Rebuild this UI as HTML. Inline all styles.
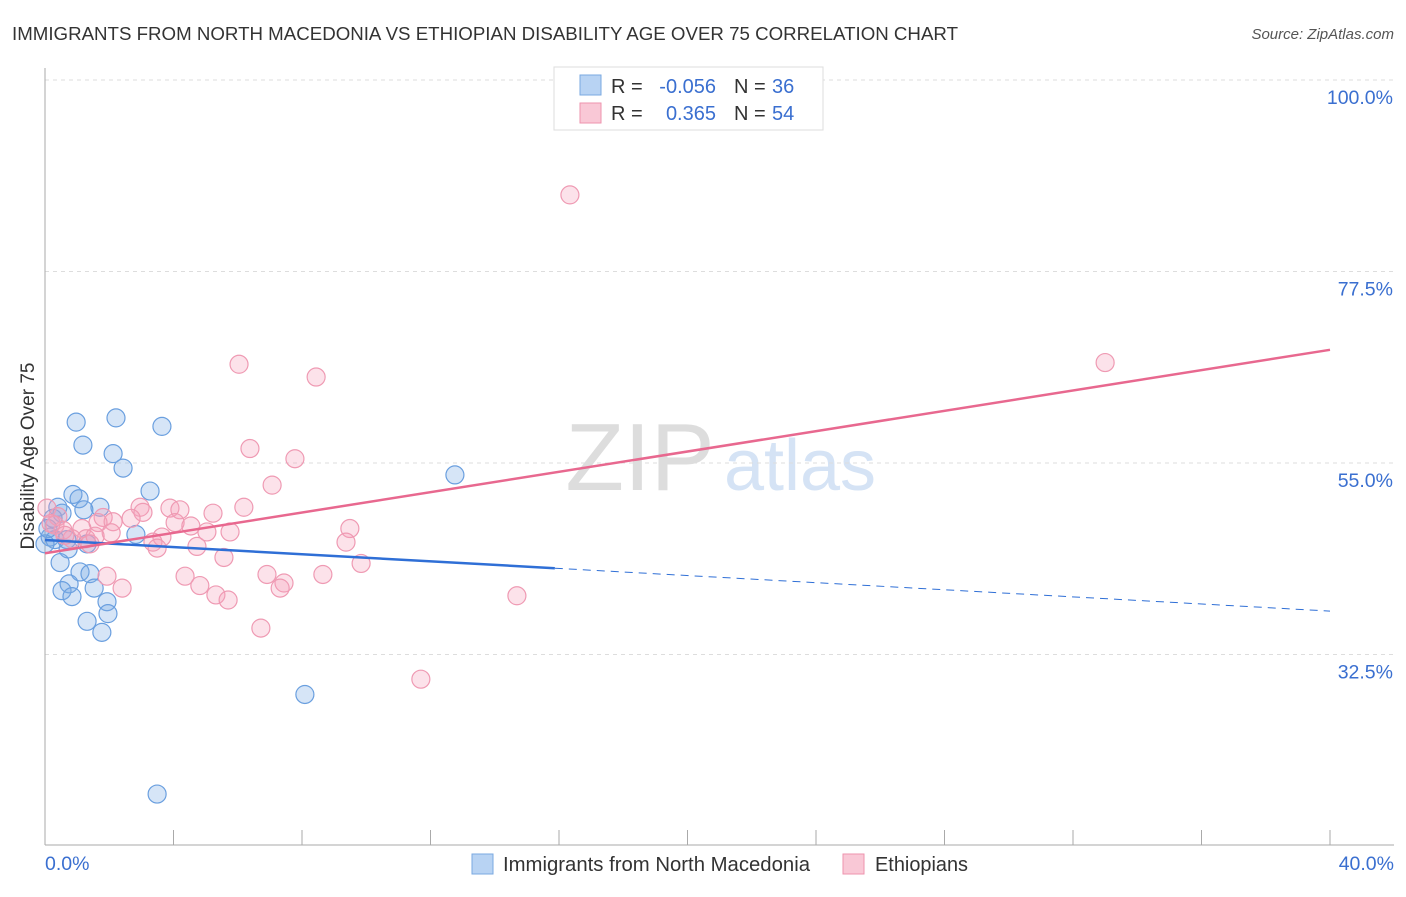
<!DOCTYPE html>
<html><head><meta charset="utf-8"><style>
body{margin:0;background:#fff;font-family:"Liberation Sans",sans-serif}
svg text{font-family:"Liberation Sans",sans-serif}
</style></head><body>
<svg width="1406" height="892" viewBox="0 0 1406 892">
<text x="12" y="40" font-size="18" fill="#333" textLength="946" lengthAdjust="spacingAndGlyphs">IMMIGRANTS FROM NORTH MACEDONIA VS ETHIOPIAN DISABILITY AGE OVER 75 CORRELATION CHART</text>
<text x="1394" y="39" font-size="15" fill="#555" font-style="italic" text-anchor="end">Source: ZipAtlas.com</text>
<text x="640" y="490" font-size="96" fill="#ddd" font-family="Liberation Serif" text-anchor="middle">ZIP</text>
<text x="800" y="490" font-size="72" fill="#d5e3f5" text-anchor="middle">atlas</text>
<g id="grid"></g>
<line x1="45" y1="68" x2="45" y2="845" stroke="#aaa"/>
<line x1="45" y1="845" x2="1394" y2="845" stroke="#aaa"/>
<text x="34" y="456" font-size="19" fill="#333" text-anchor="middle" transform="rotate(-90 34 456)">Disability Age Over 75</text>
<g id="marks"></g>
<g>
<rect x="554" y="67" width="269" height="63" fill="#fff" stroke="#ddd"/>
<rect x="580" y="75" width="21" height="20" fill="#b8d3f3" stroke="#7aa8e0"/>
<rect x="580" y="103" width="21" height="20" fill="#f9c8d6" stroke="#ee93ae"/>
<text x="611" y="93" font-size="20" fill="#333">R =</text>
<text x="716" y="93" font-size="20" fill="#3a6fd0" text-anchor="end">-0.056</text>
<text x="734" y="93" font-size="20" fill="#333">N =</text>
<text x="772" y="93" font-size="20" fill="#3a6fd0">36</text>
<text x="611" y="120" font-size="20" fill="#333">R =</text>
<text x="716" y="120" font-size="20" fill="#3a6fd0" text-anchor="end">0.365</text>
<text x="734" y="120" font-size="20" fill="#333">N =</text>
<text x="772" y="120" font-size="20" fill="#3a6fd0">54</text>
</g>
<g>
<rect x="472" y="854" width="21" height="20" fill="#b8d3f3" stroke="#7aa8e0"/>
<text x="503" y="871" font-size="20" fill="#333" textLength="307" lengthAdjust="spacingAndGlyphs">Immigrants from North Macedonia</text>
<rect x="843" y="854" width="21" height="20" fill="#f9c8d6" stroke="#ee93ae"/>
<text x="875" y="871" font-size="20" fill="#333" textLength="93" lengthAdjust="spacingAndGlyphs">Ethiopians</text>
</g>
</svg>
<script>
const yTicks=[100,77.5,55,32.5];
const yTickLabels=["100.0%","77.5%","55.0%","32.5%"];
const xTickLabels=["0.0%","40.0%"];
const blueX=[0.97,2.21,3.64,1.18,2.12,2.43,12.76,0.87,1.06,3.27,1.71,1.21,0.40,0.25,2.83,0.16,0.31,0.68,1.31,0.72,0.47,1.09,1.40,0.75,0.53,1.53,0.84,1.93,1.31,1.96,1.77,8.09,3.49,0.0,0.09,0.53];
const blueY=[59.8,60.3,59.3,57.1,56.1,54.4,53.6,51.3,50.8,51.7,49.8,49.5,49.8,48.5,46.6,46.3,46.0,46.0,45.5,44.9,43.3,42.2,42.0,40.8,40.0,40.3,39.3,38.7,36.4,37.3,35.1,27.8,16.1,45.5,47.3,49.1];
const pinkX=[16.34,33.0,6.04,8.44,6.38,7.78,7.07,6.19,5.23,3.89,4.20,2.96,3.05,2.68,1.81,1.65,0.06,0.40,0.31,0.56,1.15,2.12,2.06,4.05,4.54,5.04,5.76,9.49,3.64,3.36,3.49,4.73,1.28,0.84,1.40,9.37,5.57,9.84,1.93,2.40,4.36,4.82,5.32,5.70,6.91,7.44,7.32,8.65,14.69,6.72,11.70,0.19,0.62,1.56];
const pinkY=[86.5,66.8,66.6,65.1,56.7,55.5,52.4,49.8,49.1,49.7,49.5,49.8,49.2,48.5,48.6,48.0,49.7,48.7,47.7,47.1,47.3,48.1,46.8,48.0,47.6,46.9,46.9,47.3,46.3,45.7,45.0,45.2,46.1,46.1,45.5,45.7,43.9,43.2,41.7,40.3,41.7,40.6,39.5,38.9,41.9,40.9,40.3,41.9,39.4,35.6,29.6,47.9,46.5,46.4];
const blueTrend=[45.95,37.6];
const pinkTrend=[44.4,68.3];
const NS="http://www.w3.org/2000/svg";
const X=v=>45+v*32.125, Y=v=>80+(100-v)*8.511;
function mk(t,a,p){const e=document.createElementNS(NS,t);for(const k in a)e.setAttribute(k,a[k]);p.appendChild(e);return e;}
const grid=document.getElementById('grid'), marks=document.getElementById('marks');
yTicks.forEach((v,i)=>{
 const l=mk('line',{x1:45,x2:1394,y1:Y(v),y2:Y(v),stroke:'#ddd','stroke-dasharray':'4,4'},grid);
 
 
 const t=mk('text',{x:1393,y:Y(v)+24,'font-size':19.5,fill:'#3a6fd0','text-anchor':'end'},grid);
 t.textContent=yTickLabels[i];
 
 
});
for(let i=0;i<=10;i++){
 const l=mk('line',{x1:X(i*4),x2:X(i*4),y1:830,y2:845,stroke:'#aaa'},grid);
 
 
}
[[0,'start',45],[40,'end',1394]].forEach((d,i)=>{
 const t=mk('text',{x:d[2],y:870,'font-size':19.5,fill:'#3a6fd0','text-anchor':d[1]},grid);
 t.textContent=xTickLabels[i];
 
 
});
blueX.forEach((x,i)=>{
 const c=mk('circle',{cx:X(x),cy:Y(blueY[i]),r:9,fill:'rgba(120,170,230,0.3)',stroke:'#6a9fdf','stroke-width':1.2},marks);
 
 
});
pinkX.forEach((x,i)=>{
 const c=mk('circle',{cx:X(x),cy:Y(pinkY[i]),r:9,fill:'rgba(245,160,185,0.3)',stroke:'#ef9ab3','stroke-width':1.2},marks);
 
 
});
const bAt=x=>blueTrend[0]+(blueTrend[1]-blueTrend[0])*x/40;
let l=mk('line',{x1:X(0),y1:Y(bAt(0)),x2:X(15.87),y2:Y(bAt(15.87)),stroke:'#2f6fd6','stroke-width':2.5},marks);


l=mk('line',{x1:X(15.87),y1:Y(bAt(15.87)),x2:X(40),y2:Y(bAt(40)),stroke:'#2f6fd6','stroke-width':1,'stroke-dasharray':'8,6'},marks);


l=mk('line',{x1:X(0),y1:Y(pinkTrend[0]),x2:X(40),y2:Y(pinkTrend[1]),stroke:'#e8688f','stroke-width':2.5},marks);


</script>
</body></html>
